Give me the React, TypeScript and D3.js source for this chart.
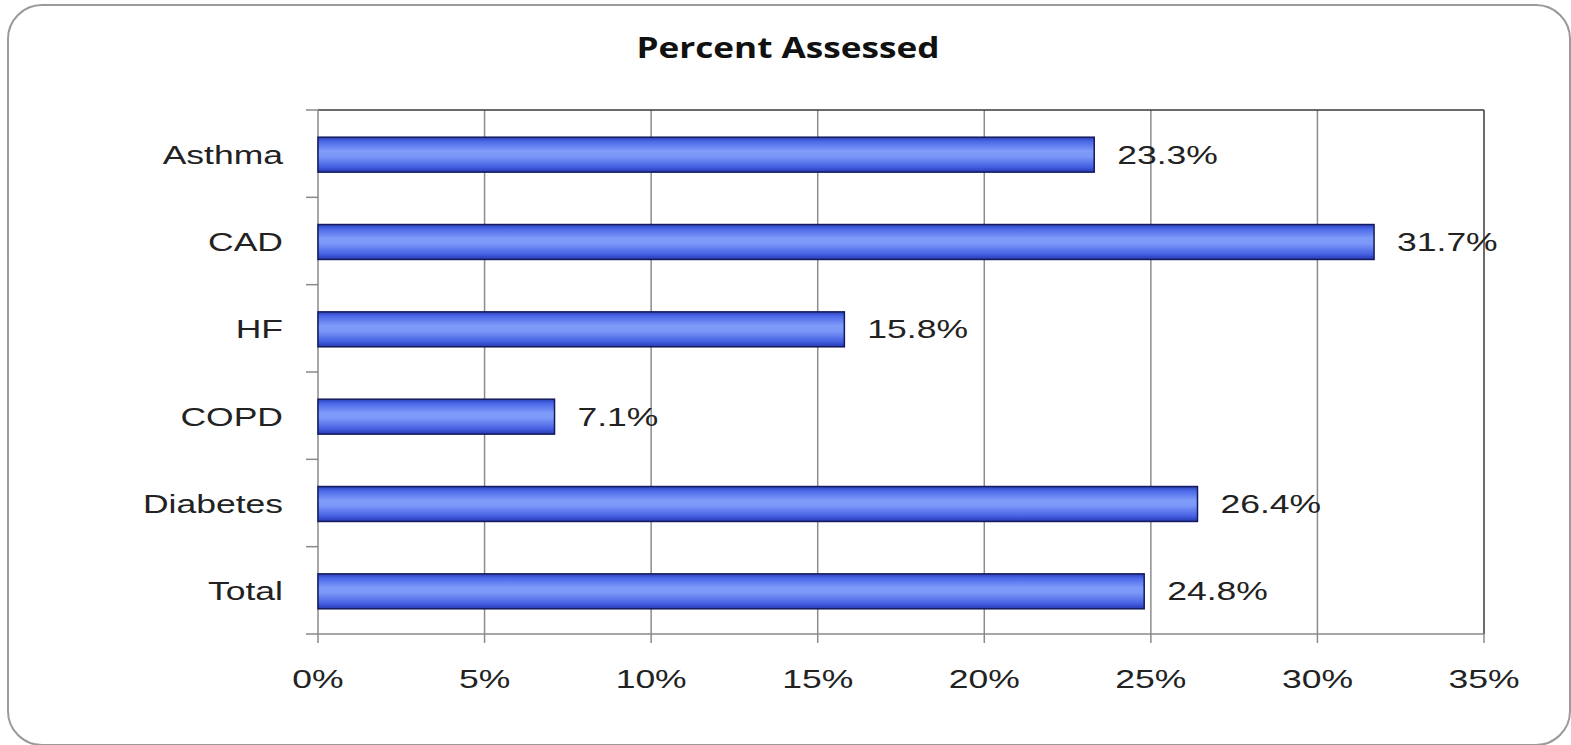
import React from "react";
import * as d3 from "d3";

const categories = ["Asthma", "CAD", "HF", "COPD", "Diabetes", "Total"];
const values = [23.3, 31.7, 15.8, 7.1, 26.4, 24.8];
const xTicks = [0, 5, 10, 15, 20, 25, 30, 35];
const title = "Percent Assessed";

const W = 1571;
const H = 745;
const plot = { left: 318, right: 1484, top: 110, bottom: 634 };
const SX = 1.42;
const textColor = "#222";
const font = "'Liberation Sans', Arial, sans-serif";

export default function App() {
  const x = d3.scaleLinear().domain([0, 35]).range([plot.left, plot.right]);
  const y = d3
    .scaleBand<string>()
    .domain(categories)
    .range([plot.top, plot.bottom])
    .paddingInner(0.6)
    .paddingOuter(0.3);
  const step = y.step();
  const bounds = d3.range(categories.length + 1).map((i) => plot.top + i * step);

  return (
    <svg
      width={W}
      height={H}
      style={{ position: "absolute", left: 0, top: 0, background: "#fff" }}
    >
      <defs>
        <linearGradient id="barGrad" x1="0" y1="0" x2="0" y2="1">
          <stop offset="0%" stopColor="#2a3fb8" />
          <stop offset="12%" stopColor="#4b68e8" />
          <stop offset="40%" stopColor="#809cfa" />
          <stop offset="55%" stopColor="#7b97f8" />
          <stop offset="85%" stopColor="#4560e2" />
          <stop offset="100%" stopColor="#2638b0" />
        </linearGradient>
      </defs>
      <rect x={8} y={5} width={1562} height={740} rx={34} ry={34} fill="#fff" stroke="#9a9a9a" strokeWidth={2} />
      <text
        x={788}
        y={58}
        textAnchor="middle"
        fontFamily="'Open Sans', sans-serif"
        fontWeight="bold"
        fontSize={29}
        fill="#111"
        textLength={303}
        lengthAdjust="spacingAndGlyphs"
      >
        {title}
      </text>

      {/* gridlines */}
      {xTicks.filter((t) => t > 0 && t < 35).map((t) => (
        <line key={"g" + t} x1={x(t)} x2={x(t)} y1={plot.top} y2={plot.bottom} stroke="#8c8c8c" strokeWidth={1.5} />
      ))}
      {/* top and right borders */}
      <line x1={plot.left} x2={plot.right} y1={plot.top} y2={plot.top} stroke="#3a3a3a" strokeWidth={1.5} />
      <line x1={plot.right} x2={plot.right} y1={plot.top} y2={plot.bottom} stroke="#3a3a3a" strokeWidth={1.5} />
      {/* axes */}
      <line x1={plot.left} x2={plot.left} y1={plot.top} y2={plot.bottom} stroke="#8a8a8a" strokeWidth={1.5} />
      <line x1={plot.left} x2={plot.right} y1={plot.bottom} y2={plot.bottom} stroke="#8a8a8a" strokeWidth={1.5} />
      {bounds.map((b, i) => (
        <line key={"yt" + i} x1={plot.left - 12} x2={plot.left} y1={b} y2={b} stroke="#8a8a8a" strokeWidth={1.5} />
      ))}
      {xTicks.map((t) => (
        <g key={"xt" + t}>
          <line x1={x(t)} x2={x(t)} y1={plot.bottom} y2={plot.bottom + 9} stroke="#8a8a8a" strokeWidth={1.5} />
          <text
            transform={`translate(${x(t)},688) scale(${SX},1)`}
            textAnchor="middle"
            fontFamily={font}
            fontSize={25}
            fill={textColor}
          >
            {`${t}%`}
          </text>
        </g>
      ))}

      {/* bars */}
      {categories.map((c, i) => {
        const y0 = (y(c) as number) + 1;
        const bh = y.bandwidth();
        const cy = y0 + bh / 2;
        return (
          <g key={c}>
            <rect
              x={x(0)}
              y={y0}
              width={x(values[i]) - x(0)}
              height={bh}
              fill="url(#barGrad)"
              stroke="#141a5c"
              strokeWidth={1.5}
            />
            <text
              transform={`translate(${x(values[i]) + 23},${cy + 9}) scale(${SX},1)`}
              fontFamily={font}
              fontSize={25}
              fill={textColor}
            >
              {`${values[i].toFixed(1)}%`}
            </text>
            <text
              transform={`translate(283,${cy + 9}) scale(${SX},1)`}
              textAnchor="end"
              fontFamily={font}
              fontSize={25}
              fill={textColor}
            >
              {c}
            </text>
          </g>
        );
      })}
    </svg>
  );
}
